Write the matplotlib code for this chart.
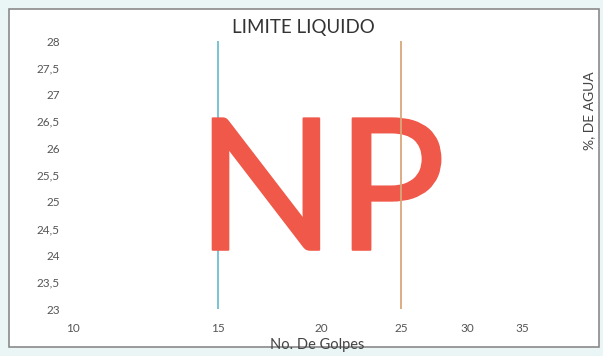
import matplotlib
matplotlib.use("Agg")
import matplotlib.pyplot as plt
from matplotlib.patches import Rectangle
import matplotlib.patheffects as pe

# datos del grafico
golpes_ticks = [10, 15, 20, 25, 30, 35]
humedad_ticks = [23, 23.5, 24, 24.5, 25, 25.5, 26, 26.5, 27, 27.5, 28]
humedad_ticklabels = ["23", "23,5", "24", "24,5", "25", "25,5", "26", "26,5", "27", "27,5", "28"]
linea_15_x = [15, 15]
linea_25_x = [25, 25]
linea_y = [23, 28]
resultado = "NP"

fig = plt.figure(figsize=(6.03, 3.56), dpi=100, facecolor="#eaf6f6")

# marco del grafico (por debajo de los ejes)
fig.patches.append(Rectangle((9 / 603, 9 / 356), 590 / 603, 338 / 356, transform=fig.transFigure,
                             facecolor="white", edgecolor="#8a8a8a", linewidth=1.2, zorder=-1))

ax = fig.add_axes([73 / 603, 1 - 309 / 356, (570 - 73) / 603, (309 - 41) / 356])
ax.set_facecolor("none")
ax.set_xscale("log")
ax.set_xlim(10, 40)
ax.set_ylim(23, 28)

# linea azul por debajo del texto NP, linea naranja por encima
ax.plot(linea_15_x, linea_y, color="#6fbfcf", linewidth=1.3, zorder=1)
ax.plot(linea_25_x, linea_y, color="#d9a77a", linewidth=1.3, zorder=3)

ax.set_xticks(golpes_ticks)
ax.set_xticklabels([str(v) for v in golpes_ticks])
ax.minorticks_off()
ax.set_yticks(humedad_ticks)
ax.set_yticklabels(humedad_ticklabels)
ax.tick_params(axis="both", length=0, labelsize=8.5, labelcolor="#555555")
ax.tick_params(axis="y", pad=9.5)
ax.tick_params(axis="x", pad=10)
for lbl in ax.get_xticklabels() + ax.get_yticklabels():
    lbl.set_family("Lato")
for s in ax.spines.values():
    s.set_visible(False)

# textos
fig.text(303 / 603, 1 - 27 / 356, "LIMITE LIQUIDO", ha="center", va="center",
         fontsize=13.5, color="#333333", family="Lato")
fig.text(317 / 603, 1 - 345 / 356, "No. De Golpes", ha="center", va="center",
         fontsize=10.5, color="#444444", family="Lato")
fig.text(589 / 603, 1 - 111 / 356, "%, DE AGUA", ha="center", va="center",
         rotation=90, fontsize=10, color="#444444", family="Lato")
ax.text(321 / 603, 1 - 198 / 356, resultado, ha="center", va="center",
        transform=fig.transFigure, zorder=2, clip_on=False,
        fontsize=132, color="#f0594a", family="Lato",
        path_effects=[pe.Stroke(linewidth=1.5, foreground="#f0594a"), pe.Normal()])

fig.savefig("out.png", dpi=100, facecolor=fig.get_facecolor())
